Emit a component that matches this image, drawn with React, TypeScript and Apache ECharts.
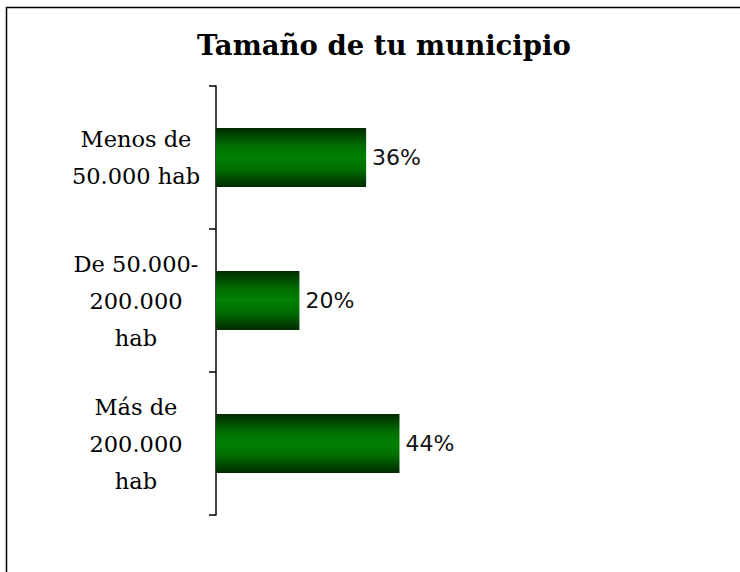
import React, { useEffect, useRef } from "react";
import * as echarts from "echarts";

const categories = ["Menos de\n50.000 hab", "De 50.000-\n200.000\nhab", "Más de\n200.000\nhab"];
const values = [36, 20, 44];
const titleText = "Tamaño de tu municipio";

export default function App() {
  const ref = useRef<HTMLDivElement>(null);
  useEffect(() => {
    if (!ref.current) return;
    const chart = echarts.init(ref.current, null, { renderer: "svg" });
    const barColor = new echarts.graphic.LinearGradient(0, 0, 0, 1, [
      { offset: 0, color: "#002a00" },
      { offset: 0.3, color: "#006e00" },
      { offset: 0.5, color: "#008000" },
      { offset: 0.7, color: "#006e00" },
      { offset: 1, color: "#002a00" },
    ]);
    chart.setOption({
      animation: false,
      backgroundColor: "#ffffff",
      title: {
        text: titleText,
        left: 197,
        top: 31,
        padding: 0,
        textStyle: {
          fontFamily: "DejaVu Serif",
          fontWeight: "bold",
          fontSize: 27.5,
          color: "#000000",
        },
      },
      graphic: [
        {
          type: "polyline",
          shape: { points: [[6.5, 600], [6.5, 7.5], [760, 7.5]] },
          style: { fill: "none", stroke: "#000000", lineWidth: 1.5 },
          silent: true,
        },
      ],
      grid: { left: 216, top: 86, width: 417, height: 429 },
      xAxis: { type: "value", min: 0, max: 100, show: false },
      yAxis: {
        type: "category",
        data: categories,
        inverse: true,
        axisLine: { show: true, lineStyle: { color: "#000000", width: 1.5 } },
        axisTick: { show: true, length: 7, lineStyle: { color: "#000000", width: 1.5 } },
        axisLabel: {
          margin: 80,
          align: "center",
          fontFamily: "DejaVu Serif",
          fontSize: 22.5,
          lineHeight: 37,
          color: "#000000",
        },
        splitLine: { show: false },
      },
      series: [
        {
          type: "bar",
          data: values,
          barWidth: 59,
          itemStyle: { color: barColor },
          label: {
            show: true,
            position: "right",
            distance: 6,
            formatter: "{c}%",
            fontFamily: "DejaVu Sans",
            fontSize: 22,
            color: "#111111",
          },
        },
      ],
    });
    return () => chart.dispose();
  }, []);
  return <div ref={ref} style={{ position: "absolute", left: 0, top: 0, width: 740, height: 572 }} />;
}
